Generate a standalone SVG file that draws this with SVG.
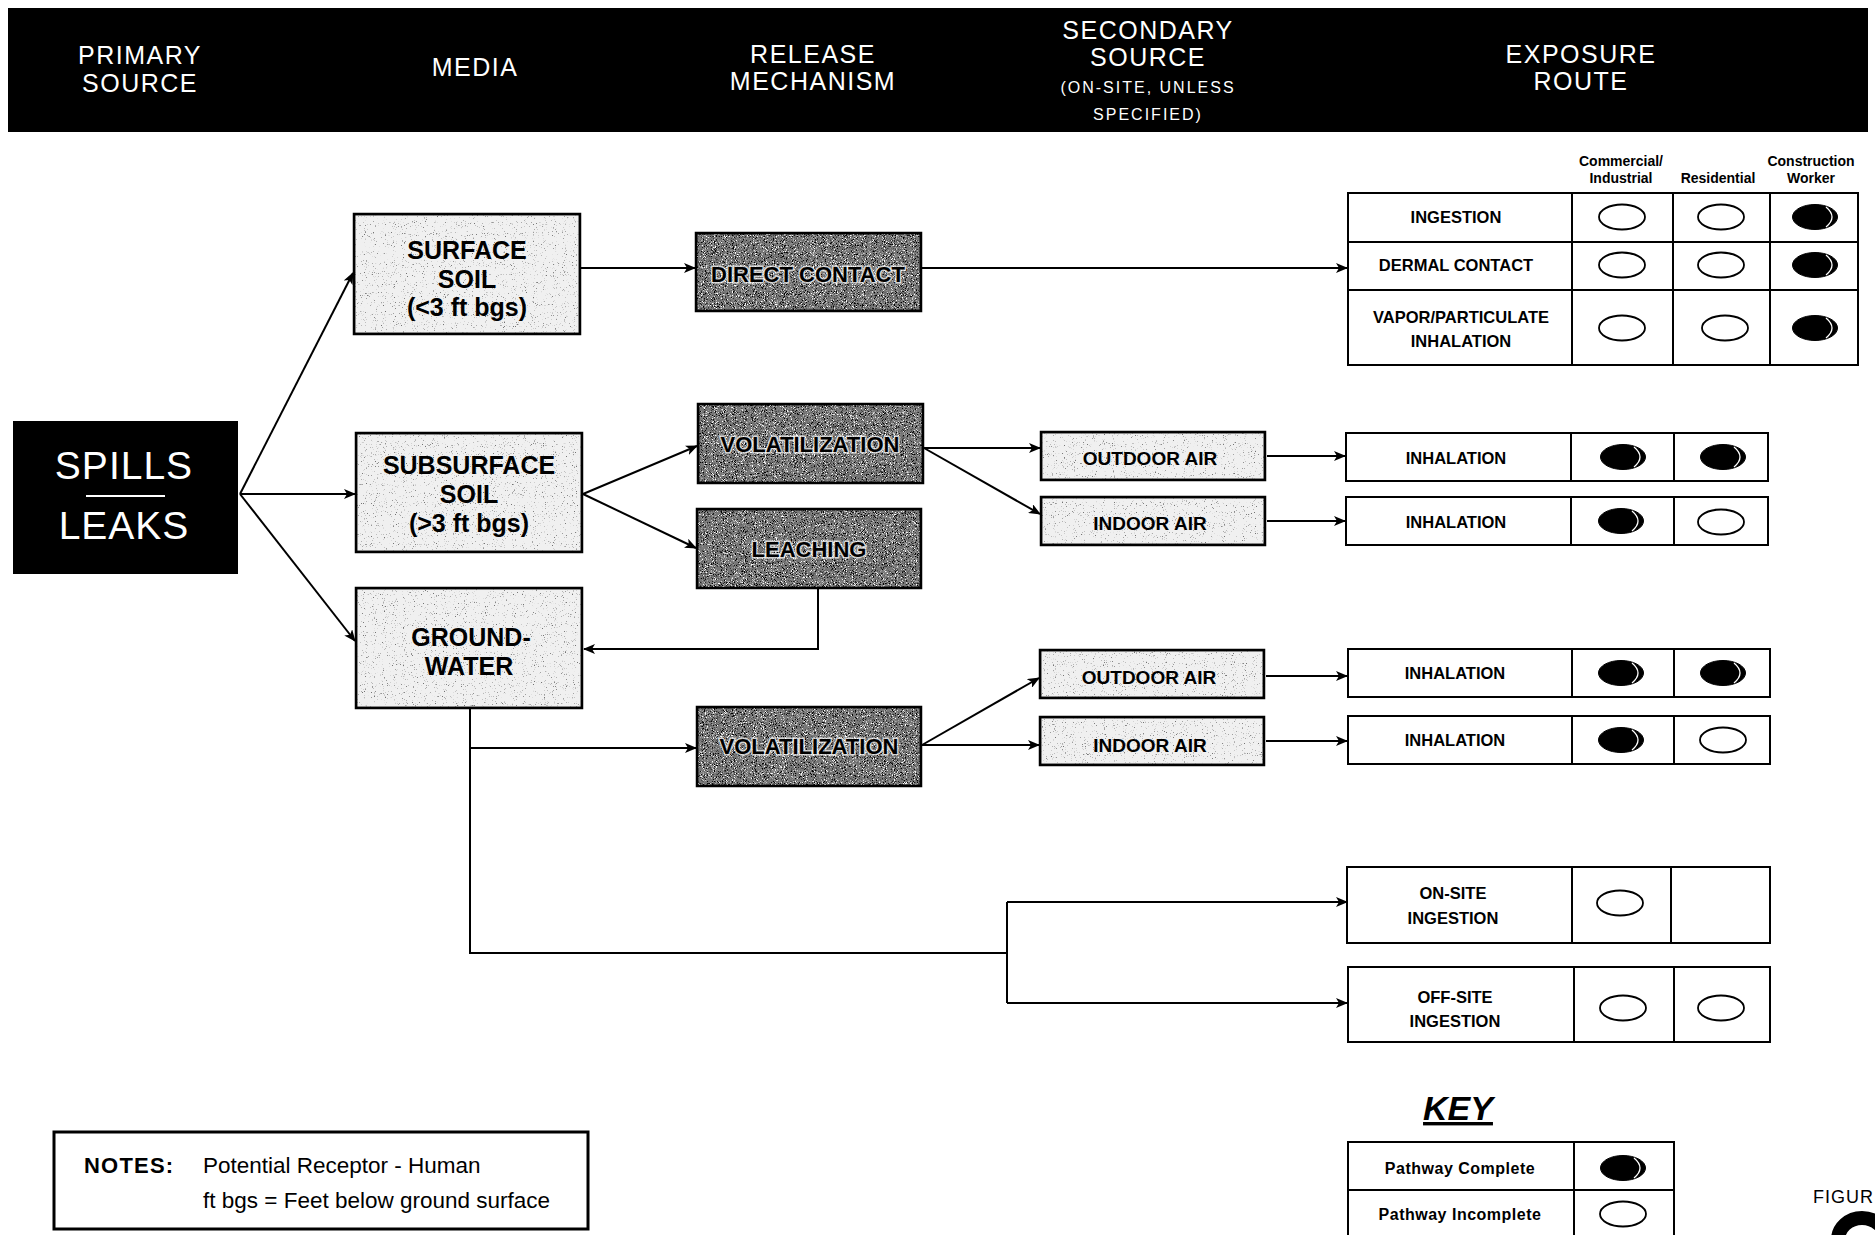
<svg xmlns="http://www.w3.org/2000/svg" width="1875" height="1235" viewBox="0 0 1875 1235">
<style>
text{font-family:"Liberation Sans",Arial,Helvetica,sans-serif;}
.hd{fill:#fff;font-size:25px;letter-spacing:1.5px;text-anchor:middle;}
.hds{fill:#fff;font-size:16px;letter-spacing:2px;text-anchor:middle;}
.media{font-size:25px;font-weight:bold;text-anchor:middle;fill:#000;}
.mech{font-size:22px;font-weight:bold;text-anchor:middle;fill:#000;stroke:#fff;stroke-width:3px;stroke-opacity:0.7;paint-order:stroke;}
.sec{font-size:19px;font-weight:bold;text-anchor:middle;fill:#000;}
.route{font-size:16.5px;font-weight:bold;text-anchor:middle;fill:#000;}
.colh{font-size:14px;font-weight:bold;text-anchor:middle;fill:#000;}
.light{fill:#f0f0f0;stroke:#000;stroke-width:2.5px;}
.dark{fill:#777;stroke:#000;stroke-width:2.5px;}
.tbl{fill:#fff;stroke:#000;stroke-width:2px;}
.div{stroke:#000;stroke-width:2px;}
.open{fill:#fff;stroke:#000;stroke-width:1.8px;}
.full{fill:#000;stroke:#000;stroke-width:1px;}
.hl{fill:none;stroke:#fff;stroke-width:1.3px;}
.con{fill:none;stroke:#000;stroke-width:2px;}
.arr{marker-end:url(#ah);}
</style>
<defs>
<marker id="ah" markerUnits="userSpaceOnUse" markerWidth="13" markerHeight="10" refX="11" refY="5" orient="auto">
<path d="M0,0 L12,5 L0,10 L3,5 z" fill="#000"/>
</marker>
<filter id="lightTex" x="0" y="0" width="1" height="1" color-interpolation-filters="sRGB">
<feTurbulence type="fractalNoise" baseFrequency="0.9" numOctaves="2" seed="3" result="n"/>
<feColorMatrix in="n" type="matrix" values="0 0 0 0 0.45  0 0 0 0 0.45  0 0 0 0 0.45  6 0 0 0 -3.9" result="d"/>
<feComposite in="d" in2="SourceGraphic" operator="atop"/>
</filter>
<filter id="darkTex" x="0" y="0" width="1" height="1" color-interpolation-filters="sRGB">
<feTurbulence type="fractalNoise" baseFrequency="1.1" numOctaves="2" seed="7" result="n"/>
<feColorMatrix in="n" type="matrix" values="0 0 0 0 1  0 0 0 0 1  0 0 0 0 1  6 0 0 0 -3.3" result="w"/>
<feColorMatrix in="n" type="matrix" values="0 0 0 0 0  0 0 0 0 0  0 0 0 0 0  0 -6 0 0 2.7" result="b"/>
<feMerge result="m"><feMergeNode in="w"/><feMergeNode in="b"/></feMerge>
<feComposite in="m" in2="SourceGraphic" operator="atop"/>
</filter>
</defs>

<rect width="1875" height="1235" fill="#fff"/>

<g id="header">
<rect x="8" y="8" width="1860" height="124" fill="#000"/>
<text class="hd" x="140" y="64">PRIMARY</text>
<text class="hd" x="140" y="92">SOURCE</text>
<text class="hd" x="475" y="76">MEDIA</text>
<text class="hd" x="813" y="63">RELEASE</text>
<text class="hd" x="813" y="90">MECHANISM</text>
<text class="hd" x="1148" y="39">SECONDARY</text>
<text class="hd" x="1148" y="66">SOURCE</text>
<text class="hds" x="1148" y="93">(ON-SITE, UNLESS</text>
<text class="hds" x="1148" y="120">SPECIFIED)</text>
<text class="hd" x="1581" y="63">EXPOSURE</text>
<text class="hd" x="1581" y="90">ROUTE</text>
</g>

<g id="connectors">
<path class="con arr" d="M240,494 L353,273"/>
<path class="con arr" d="M240,494 L355,494"/>
<path class="con arr" d="M240,494 L355,641"/>
<path class="con arr" d="M581,268 L695,268"/>
<path class="con arr" d="M922,268 L1347,268"/>
<path class="con arr" d="M583,494 L697,446"/>
<path class="con arr" d="M583,494 L696,548"/>
<path class="con arr" d="M818,589 L818,649 L584,649"/>
<path class="con arr" d="M924,448 L1040,448"/>
<path class="con arr" d="M924,448 L1040,514"/>
<path class="con arr" d="M1267,456 L1345,456"/>
<path class="con arr" d="M1267,521 L1345,521"/>
<path class="con" d="M470,709 L470,953 L1007,953"/>
<path class="con arr" d="M470,748 L696,748"/>
<path class="con" d="M1007,902 L1007,1003"/>
<path class="con arr" d="M1007,902 L1347,902"/>
<path class="con arr" d="M1007,1003 L1347,1003"/>
<path class="con arr" d="M922,745 L1039,678"/>
<path class="con arr" d="M922,745 L1039,745"/>
<path class="con arr" d="M1266,676 L1347,676"/>
<path class="con arr" d="M1266,741 L1347,741"/>
</g>

<g id="spills-leaks">
<rect x="13" y="421" width="225" height="153" fill="#000"/>
<text x="124" y="479" fill="#fff" font-size="39" letter-spacing="1" text-anchor="middle">SPILLS</text>
<line x1="86" y1="496" x2="165" y2="496" stroke="#fff" stroke-width="2"/>
<text x="124" y="539" fill="#fff" font-size="39" letter-spacing="1" text-anchor="middle">LEAKS</text>
</g>

<g id="surface-soil">
<rect class="light" x="354" y="214" width="226" height="120" filter="url(#lightTex)"/>
<rect x="354" y="214" width="226" height="120" fill="none" stroke="#000" stroke-width="2.5"/>
<text class="media" x="467" y="259">SURFACE</text>
<text class="media" x="467" y="288">SOIL</text>
<text class="media" x="467" y="316">(&lt;3 ft bgs)</text>
</g>

<g id="subsurface-soil">
<rect class="light" x="356" y="433" width="226" height="119" filter="url(#lightTex)"/>
<rect x="356" y="433" width="226" height="119" fill="none" stroke="#000" stroke-width="2.5"/>
<text class="media" x="469" y="474">SUBSURFACE</text>
<text class="media" x="469" y="503">SOIL</text>
<text class="media" x="469" y="532">(&gt;3 ft bgs)</text>
</g>

<g id="groundwater">
<rect class="light" x="356" y="588" width="226" height="120" filter="url(#lightTex)"/>
<rect x="356" y="588" width="226" height="120" fill="none" stroke="#000" stroke-width="2.5"/>
<text class="media" x="471" y="646">GROUND-</text>
<text class="media" x="469" y="675">WATER</text>
</g>

<g id="direct-contact">
<rect class="dark" x="696" y="233" width="225" height="78" filter="url(#darkTex)"/>
<rect x="696" y="233" width="225" height="78" fill="none" stroke="#000" stroke-width="2.5"/>
<text class="mech" x="808" y="282">DIRECT CONTACT</text>
</g>

<g id="volatilization-soil">
<rect class="dark" x="698" y="404" width="225" height="79" filter="url(#darkTex)"/>
<rect x="698" y="404" width="225" height="79" fill="none" stroke="#000" stroke-width="2.5"/>
<text class="mech" x="810" y="452">VOLATILIZATION</text>
</g>

<g id="leaching">
<rect class="dark" x="697" y="509" width="224" height="79" filter="url(#darkTex)"/>
<rect x="697" y="509" width="224" height="79" fill="none" stroke="#000" stroke-width="2.5"/>
<text class="mech" x="809" y="557">LEACHING</text>
</g>

<g id="volatilization-gw">
<rect class="dark" x="697" y="707" width="224" height="79" filter="url(#darkTex)"/>
<rect x="697" y="707" width="224" height="79" fill="none" stroke="#000" stroke-width="2.5"/>
<text class="mech" x="809" y="754">VOLATILIZATION</text>
</g>

<g id="outdoor-air-1">
<rect class="light" x="1041" y="432" width="224" height="48" filter="url(#lightTex)"/>
<rect x="1041" y="432" width="224" height="48" fill="none" stroke="#000" stroke-width="2.5"/>
<text class="sec" x="1150" y="465">OUTDOOR AIR</text>
</g>
<g id="indoor-air-1">
<rect class="light" x="1041" y="497" width="224" height="48" filter="url(#lightTex)"/>
<rect x="1041" y="497" width="224" height="48" fill="none" stroke="#000" stroke-width="2.5"/>
<text class="sec" x="1150" y="530">INDOOR AIR</text>
</g>
<g id="outdoor-air-2">
<rect class="light" x="1040" y="650" width="224" height="48" filter="url(#lightTex)"/>
<rect x="1040" y="650" width="224" height="48" fill="none" stroke="#000" stroke-width="2.5"/>
<text class="sec" x="1149" y="684">OUTDOOR AIR</text>
</g>
<g id="indoor-air-2">
<rect class="light" x="1040" y="717" width="224" height="48" filter="url(#lightTex)"/>
<rect x="1040" y="717" width="224" height="48" fill="none" stroke="#000" stroke-width="2.5"/>
<text class="sec" x="1150" y="752">INDOOR AIR</text>
</g>

<g id="receptor-headers">
<text class="colh" x="1621" y="166">Commercial/</text>
<text class="colh" x="1621" y="183">Industrial</text>
<text class="colh" x="1718" y="183">Residential</text>
<text class="colh" x="1811" y="166">Construction</text>
<text class="colh" x="1811" y="183">Worker</text>
</g>

<g id="route-direct-contact">
<rect class="tbl" x="1348" y="193" width="510" height="172"/>
<line class="div" x1="1348" y1="242" x2="1858" y2="242"/>
<line class="div" x1="1348" y1="290" x2="1858" y2="290"/>
<line class="div" x1="1572" y1="193" x2="1572" y2="365"/>
<line class="div" x1="1673" y1="193" x2="1673" y2="365"/>
<line class="div" x1="1770" y1="193" x2="1770" y2="365"/>
<text class="route" x="1456" y="223">INGESTION</text>
<text class="route" x="1456" y="271">DERMAL CONTACT</text>
<text class="route" x="1461" y="323">VAPOR/PARTICULATE</text>
<text class="route" x="1461" y="347">INHALATION</text>
<ellipse class="open" cx="1622" cy="217" rx="23" ry="12.5"/>
<ellipse class="open" cx="1721" cy="217" rx="23" ry="12.5"/>
<ellipse class="full" cx="1815" cy="217" rx="22.5" ry="12.5"/>
<path class="hl" d="M1826,207 Q1838,217 1826,227"/>
<ellipse class="open" cx="1622" cy="265" rx="23" ry="12.5"/>
<ellipse class="open" cx="1721" cy="265" rx="23" ry="12.5"/>
<ellipse class="full" cx="1815" cy="265" rx="22.5" ry="12.5"/>
<path class="hl" d="M1826,255 Q1838,265 1826,275"/>
<ellipse class="open" cx="1622" cy="328" rx="23" ry="12.5"/>
<ellipse class="open" cx="1725" cy="328" rx="23" ry="12.5"/>
<ellipse class="full" cx="1815" cy="328" rx="22.5" ry="12.5"/>
<path class="hl" d="M1826,318 Q1838,328 1826,338"/>
</g>

<g id="route-inhalation-1">
<rect class="tbl" x="1346" y="433" width="422" height="48"/>
<line class="div" x1="1571" y1="433" x2="1571" y2="481"/>
<line class="div" x1="1674" y1="433" x2="1674" y2="481"/>
<text class="route" x="1456" y="464">INHALATION</text>
<ellipse class="full" cx="1623" cy="457" rx="22.5" ry="12.5"/>
<path class="hl" d="M1634,447 Q1646,457 1634,467"/>
<ellipse class="full" cx="1723" cy="457" rx="22.5" ry="12.5"/>
<path class="hl" d="M1734,447 Q1746,457 1734,467"/>
</g>

<g id="route-inhalation-2">
<rect class="tbl" x="1346" y="497" width="422" height="48"/>
<line class="div" x1="1571" y1="497" x2="1571" y2="545"/>
<line class="div" x1="1674" y1="497" x2="1674" y2="545"/>
<text class="route" x="1456" y="528">INHALATION</text>
<ellipse class="full" cx="1621" cy="521" rx="22.5" ry="12.5"/>
<path class="hl" d="M1632,511 Q1644,521 1632,531"/>
<ellipse class="open" cx="1721" cy="522" rx="23" ry="12.5"/>
</g>

<g id="route-inhalation-3">
<rect class="tbl" x="1348" y="649" width="422" height="48"/>
<line class="div" x1="1572" y1="649" x2="1572" y2="697"/>
<line class="div" x1="1674" y1="649" x2="1674" y2="697"/>
<text class="route" x="1455" y="679">INHALATION</text>
<ellipse class="full" cx="1621" cy="673" rx="22.5" ry="12.5"/>
<path class="hl" d="M1632,663 Q1644,673 1632,683"/>
<ellipse class="full" cx="1723" cy="673" rx="22.5" ry="12.5"/>
<path class="hl" d="M1734,663 Q1746,673 1734,683"/>
</g>

<g id="route-inhalation-4">
<rect class="tbl" x="1348" y="716" width="422" height="48"/>
<line class="div" x1="1572" y1="716" x2="1572" y2="764"/>
<line class="div" x1="1674" y1="716" x2="1674" y2="764"/>
<text class="route" x="1455" y="746">INHALATION</text>
<ellipse class="full" cx="1621" cy="740" rx="22.5" ry="12.5"/>
<path class="hl" d="M1632,730 Q1644,740 1632,750"/>
<ellipse class="open" cx="1723" cy="740" rx="23" ry="12.5"/>
</g>

<g id="route-onsite-ingestion">
<rect class="tbl" x="1347" y="867" width="423" height="76"/>
<line class="div" x1="1572" y1="867" x2="1572" y2="943"/>
<line class="div" x1="1671" y1="867" x2="1671" y2="943"/>
<text class="route" x="1453" y="899">ON-SITE</text>
<text class="route" x="1453" y="924">INGESTION</text>
<ellipse class="open" cx="1620" cy="903" rx="23" ry="12.5"/>
</g>

<g id="route-offsite-ingestion">
<rect class="tbl" x="1348" y="967" width="422" height="75"/>
<line class="div" x1="1574" y1="967" x2="1574" y2="1042"/>
<line class="div" x1="1674" y1="967" x2="1674" y2="1042"/>
<text class="route" x="1455" y="1003">OFF-SITE</text>
<text class="route" x="1455" y="1027">INGESTION</text>
<ellipse class="open" cx="1623" cy="1008" rx="23" ry="12.5"/>
<ellipse class="open" cx="1721" cy="1008" rx="23" ry="12.5"/>
</g>

<g id="key">
<text x="1458" y="1120" font-size="34" font-weight="bold" font-style="italic" text-anchor="middle" text-decoration="underline">KEY</text>
<rect class="tbl" x="1348" y="1142" width="326" height="100"/>
<line class="div" x1="1348" y1="1190" x2="1674" y2="1190"/>
<line class="div" x1="1574" y1="1142" x2="1574" y2="1242"/>
<text x="1460" y="1174" font-size="16" font-weight="bold" letter-spacing="0.5" text-anchor="middle">Pathway Complete</text>
<text x="1460" y="1220" font-size="16" font-weight="bold" letter-spacing="0.5" text-anchor="middle">Pathway Incomplete</text>
<ellipse class="full" cx="1623" cy="1168" rx="22.5" ry="12.5"/>
<path class="hl" d="M1634,1158 Q1646,1168 1634,1178"/>
<ellipse class="open" cx="1623" cy="1214" rx="23" ry="12.5"/>
</g>

<g id="notes">
<rect x="54" y="1132" width="534" height="97" fill="#fff" stroke="#000" stroke-width="3"/>
<text x="84" y="1173" font-size="22" font-weight="bold" letter-spacing="1.2">NOTES:</text>
<text x="203" y="1173" font-size="22.5">Potential Receptor - Human</text>
<text x="203" y="1208" font-size="22.5">ft bgs = Feet below ground surface</text>
</g>

<g id="figure-label">
<text x="1813" y="1203" font-size="18" letter-spacing="1">FIGUR</text>
<path d="M1838,1240 A24,22 0 0 1 1886,1240" fill="none" stroke="#000" stroke-width="14"/>
</g>
</svg>
